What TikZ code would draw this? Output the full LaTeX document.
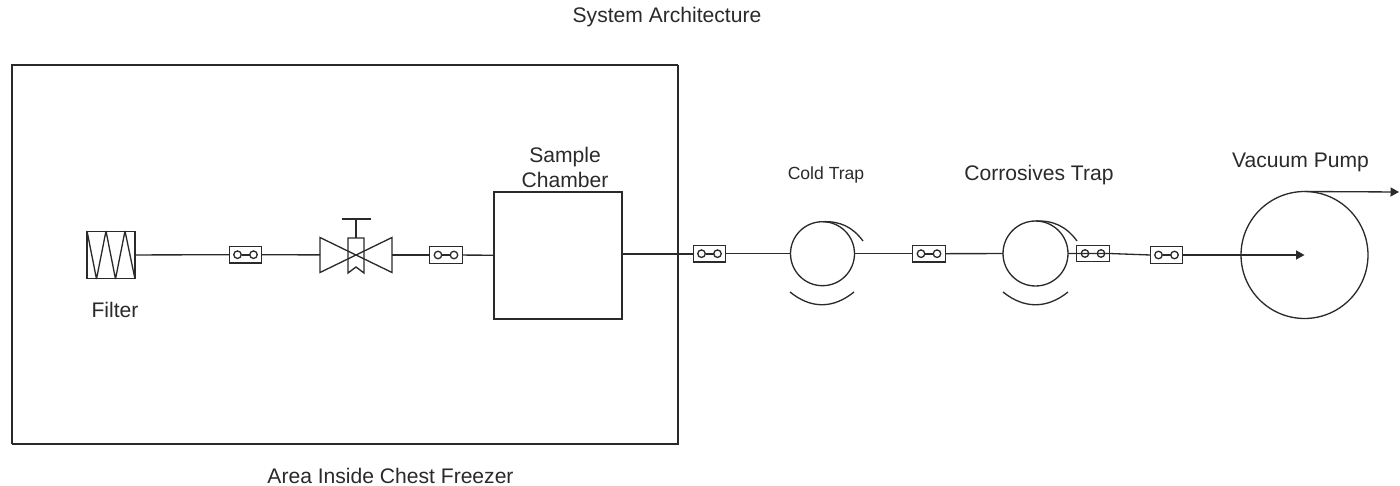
\documentclass[tikz,border=0pt]{standalone}
\usepackage{fontspec}
\setmainfont{Liberation Sans}
\usetikzlibrary{arrows.meta,positioning,calc}
\definecolor{lineGray}{HTML}{2A2A2A}
\definecolor{textGray}{HTML}{2A2A2A}
\tikzset{
  pipe/.style={draw=lineGray,line width=0.75pt},
  heavypipe/.style={draw=lineGray,line width=1.05pt},
  flowtip/.style={-{Triangle[length=0.17cm,width=0.18cm]}},
  coupling/.style={pipe,rectangle,minimum width=0.65cm,minimum height=0.33cm,inner sep=0pt,outer sep=0pt},
  vessel/.style={pipe,circle,inner sep=0pt,outer sep=0pt},
  lab/.style={text=textGray,font=\fontsize{12pt}{14.2pt}\selectfont,align=center,inner sep=0pt}
}
\begin{document}
\begin{tikzpicture}[x=0.02cm,y=-0.02cm]
\useasboundingbox (0,0) rectangle (1400,486);
% freezer outline, heavier along the bottom
\draw[pipe] (12,444) -- (12,65) -- (678,65);
\draw[heavypipe] (678,65) -- (678,444) -- (12,444);
% components along the line
\node[pipe,rectangle,minimum width=0.96cm,minimum height=0.95cm,inner sep=0pt,outer sep=0pt] (filter) at (111,255) {};
\draw[pipe,line join=bevel] (87,231) -- (96.5,279) -- (106,231) -- (115.5,279) -- (125,231) -- (135,279);
\node[rectangle,minimum width=1.44cm,minimum height=0.7cm,inner sep=0pt,outer sep=0pt] (valve) at (356,255) {};
\draw[pipe] (valve.north west) -- (valve.south east) -- (valve.north east) -- (valve.south west) -- cycle;
\draw[pipe] (348,238) -- (348,273) -- (356,267) -- (364,273) -- (364,238) -- cycle;
\draw[pipe] (356,238) -- (356,219) (342,219) -- (371,219);
\node[pipe,rectangle,minimum width=2.56cm,minimum height=2.54cm,inner sep=0pt,outer sep=0pt] (chamber) at (558,255.5) {};
\node[vessel,minimum size=1.28cm] (coldtrap) at (822.5,253.7) {};
\node[vessel,minimum size=1.3cm] (corrtrap) at (1035.5,253.5) {};
\node[vessel,minimum size=2.54cm] (pump) at (1304.5,255) {};
% couplings, each with two small rings
\foreach \name/\x/\y in {cplA/245.5/254.7, cplB/446/255, cplC/709.5/253.7, cplD/929/253.7, cplE/1093/253.5, cplF/1166.5/255}{
  \node[coupling] (\name) at (\x,\y) {};
  \draw[heavypipe] (\x-4,\y) -- (\x+4,\y);
  \draw[pipe,fill=white] (\x-8,\y) circle (0.075cm) (\x+8,\y) circle (0.075cm);
}
% trap shields
\coordinate (coldtip) at (863,241);
\coordinate (corrtip) at (1077,241);
\draw[pipe] (coldtrap.north) to[bend left=28] (coldtip);
\draw[pipe] (corrtrap.north) to[bend left=28] (corrtip);
\draw[pipe] (790,292) .. controls (811,309) and (833,309) .. (854,292);
\draw[pipe] (1003,292) .. controls (1024,309) and (1047,309) .. (1068,292);
% pipe run
\draw[pipe] (filter) -- (cplA);
\draw[pipe] (cplA) -- (valve);
\draw[pipe] (valve) -- (cplB);
\draw[pipe] (cplB) -- (chamber);
\draw[heavypipe] (chamber.east |- cplC) -- (cplC);
\draw[pipe] (cplC) -- (coldtrap);
\draw[pipe] (coldtrap) -- (cplD);
\draw[pipe] (cplD) -- (corrtrap);
\draw[pipe] (corrtrap.east) -- (cplE.east) -- (cplF.west);
\draw[pipe,flowtip] (cplF.east) -- (pump.center);
\coordinate (exhaust) at (1399,192);
\draw[pipe,flowtip] (pump.north) -- (exhaust);
% labels
\node[lab] (title) at (667,17) {System Architecture};
\node[lab] (arealab) at (390.5,476) {Area Inside Chest Freezer};
\node[lab] (filterlab) at (115,310) {Filter};
\node[lab] (chamberlab) at (565,167.5) {Sample\\Chamber};
\node[lab,font=\fontsize{10pt}{12pt}\selectfont] (coldlab) at (826,175) {Cold Trap};
\node[lab] (corrlab) at (1039,175) {Corrosives Trap};
\node[lab] (pumplab) at (1300.5,162) {Vacuum Pump};
\end{tikzpicture}
\end{document}
